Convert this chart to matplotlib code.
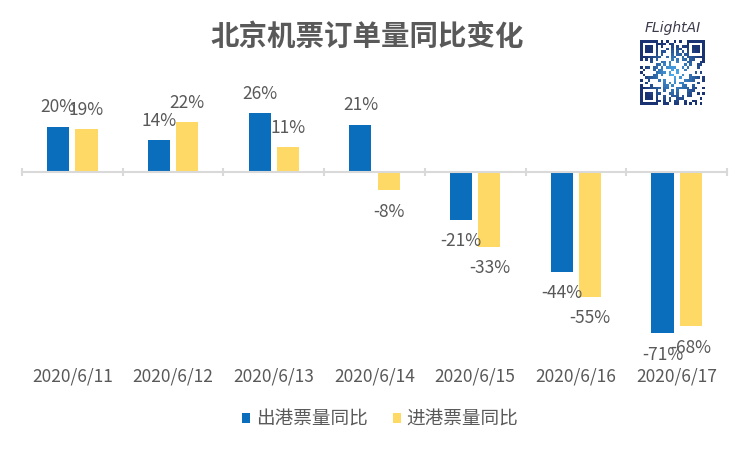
import numpy as np
import matplotlib
matplotlib.use("Agg")
import matplotlib.pyplot as plt

plt.rcParams['font.family'] = ['Noto Sans CJK SC', 'DejaVu Sans']

categories = ["2020/6/11", "2020/6/12", "2020/6/13", "2020/6/14",
              "2020/6/15", "2020/6/16", "2020/6/17"]
out_vals = [20, 14, 26, 21, -21, -44, -71]
in_vals = [19, 22, 11, -8, -33, -55, -68]
series_names = ["出港票量同比", "进港票量同比"]
title = "北京机票订单量同比变化"

BLUE = "#0A6EBD"
YELLOW = "#FFD966"
TEXT = "#595959"
AXIS = "#D9D9D9"

fig = plt.figure(figsize=(7.5, 4.49), dpi=100)
ax = fig.add_axes([22/750, 0.238, 705/750, 0.530])

x = np.arange(len(categories))
w = 0.22
off = 0.14
b1 = ax.bar(x - off, out_vals, w, color=BLUE, label=series_names[0], zorder=2)
b2 = ax.bar(x + off, in_vals, w, color=YELLOW, label=series_names[1], zorder=2)

for bars, vals in ((b1, out_vals), (b2, in_vals)):
    for rect, v in zip(bars, vals):
        cx = rect.get_x() + rect.get_width() / 2
        dy = 14 if v >= 0 else -15.5
        ax.annotate(f"{v}%", (cx, v), xytext=(0, dy), textcoords="offset points",
                    ha="center", va="center", fontsize=12.5, color=TEXT,
                    annotation_clip=False, zorder=3)

ax.set_xlim(-0.5, len(categories) - 0.5)
ax.set_ylim(-75, 30)
for s in ("top", "right", "left"):
    ax.spines[s].set_visible(False)
ax.spines["bottom"].set_position(("data", 0))
ax.spines["bottom"].set_color(AXIS)
ax.spines["bottom"].set_linewidth(1.5)
ax.set_yticks([])
ax.set_xticks(x)
ax.set_xticklabels(categories, fontsize=12.5, color=TEXT)
ax.set_xticks(np.arange(-0.5, len(categories)), minor=True)
ax.tick_params(axis="x", which="major", length=0, pad=141)
ax.tick_params(axis="x", which="minor", length=6, width=1.5, color=AXIS, direction="inout")

fig.text(0.49, 1 - 37/449, title, ha="center", va="center", fontsize=20.5,
         fontweight="bold", color=TEXT)

leg = fig.legend(handles=[b1, b2], labels=series_names, loc="center",
                 bbox_to_anchor=(380/750, 1 - 420/449), ncol=2, frameon=False,
                 fontsize=13.4, handlelength=0.45, handleheight=0.45,
                 handletextpad=0.3, columnspacing=1.35)
for t in leg.get_texts():
    t.set_color(TEXT)

# logo
fig.text(673/750, 1 - 28/449, "FLightAI", ha="center", va="center", fontsize=10,
         fontstyle="italic", color="#3a3a4a", family="DejaVu Sans")
qax = fig.add_axes([640/750, 1 - 105/449, 65/750, 65/449])
n = 25
ii, jj = np.meshgrid(np.arange(n), np.arange(n))
pat = (((ii * 7 + jj * 3) ^ (ii * jj)) % 5 < 2).astype(float)
for (r0, c0) in ((0, 0), (0, n - 7), (n - 7, 0)):
    pat[r0:r0 + 7, c0:c0 + 7] = 0
    pat[r0:r0 + 7, c0:c0 + 7][[0, 6], :] = 1
    pat[r0:r0 + 7, c0:c0 + 7][:, [0, 6]] = 1
    pat[r0 + 2:r0 + 5, c0 + 2:c0 + 5] = 1
rgb = np.ones((n, n, 3))
d = np.sqrt((ii - n / 2) ** 2 + (jj - n / 2) ** 2) / (n / 2)
glow = np.clip(1 - d, 0, 1)
dark = np.stack([0.1 + 0.2 * glow, 0.2 + 0.5 * glow, 0.45 + 0.5 * glow], axis=-1)
rgb[pat == 1] = dark[pat == 1]
qax.imshow(rgb, interpolation="nearest")
qax.axis("off")

fig.savefig("out.png", dpi=100)
